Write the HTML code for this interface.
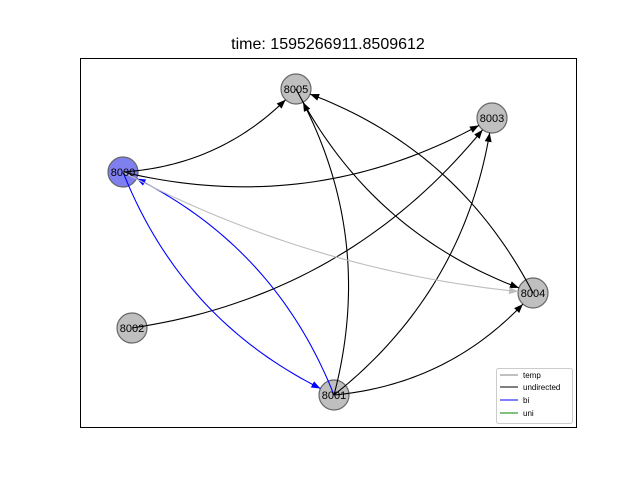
<!DOCTYPE html>
<html><head><meta charset="utf-8"><style>
body{margin:0;background:#fff;}
svg{display:block;font-family:"Liberation Sans","DejaVu Sans",sans-serif;}
</style></head><body>
<svg id="chart" width="640" height="480">
<rect width="640" height="480" fill="#fff"/>
<text x="328" y="49" font-size="16" text-anchor="middle">time: 1595266911.8509612</text>
<rect x="80.5" y="58.5" width="496" height="369" fill="none" stroke="#000" stroke-width="1"/>
<g id="nodes"></g>
<g id="edges"></g>
<g id="labels"></g>
<g>
<rect x="496.5" y="368.5" width="76" height="55" rx="2" fill="#fff" stroke="#ccc"/>
<g><line x1="500" y1="375" x2="518" y2="375" stroke="#808080"/><text x="523" y="378" font-size="8">temp</text></g>
<g><line x1="500" y1="387" x2="518" y2="387" stroke="#000"/><text x="523" y="390" font-size="8">undirected</text></g>
<g><line x1="500" y1="400" x2="518" y2="400" stroke="#0000ff"/><text x="523" y="403" font-size="8">bi</text></g>
<g><line x1="500" y1="413" x2="518" y2="413" stroke="#008000"/><text x="523" y="416" font-size="8">uni</text></g>
</g>
</svg>
<script>
const nodeIds = ["8000","8005","8003","8004","8002","8001"];
const nodeX = [123,296,492,533,132,334];
const nodeY = [172,89,118,293,328,395];
const nodeFill = ["#7f7ff0","#bfbfbf","#bfbfbf","#bfbfbf","#bfbfbf","#bfbfbf"];
const edgeFrom = ["8000","8000","8002","8001","8001","8001","8005","8004","8001","8000","8000"];
const edgeTo   = ["8005","8003","8003","8005","8003","8004","8004","8005","8000","8001","8004"];
const edgeColor= ["#000","#000","#000","#000","#000","#000","#000","#000","#0000ff","#0000ff","#bdbdbd"];
const edgeRad  = [0.2,0.2,0.2,0.2,0.2,0.2,0.2,0.2,0.2,0.2,0.1];
const R = 15, NS = "http://www.w3.org/2000/svg";
const ng = document.getElementById('nodes'), eg = document.getElementById('edges'), lg = document.getElementById('labels');
function pos(id){const i=nodeIds.indexOf(id);return [nodeX[i],nodeY[i]];}
nodeIds.forEach((id,i)=>{
  const c=document.createElementNS(NS,'circle');
  c.setAttribute('cx',nodeX[i]);c.setAttribute('cy',nodeY[i]);c.setAttribute('r',R);
  c.setAttribute('fill',nodeFill[i]);c.setAttribute('stroke','#666');c.setAttribute('stroke-width','1.2');
  
  
  ng.appendChild(c);
  const t=document.createElementNS(NS,'text');
  t.setAttribute('x',nodeX[i]);t.setAttribute('y',nodeY[i]+4);t.setAttribute('font-size','11');t.setAttribute('text-anchor','middle');
  t.textContent=id;
  
  
  lg.appendChild(t);
});
function q(p0,c,p1,t){const u=1-t;return [u*u*p0[0]+2*u*t*c[0]+t*t*p1[0],u*u*p0[1]+2*u*t*c[1]+t*t*p1[1]];}
edgeFrom.forEach((f,i)=>{
  const p0=pos(f),p1=pos(edgeTo[i]);
  const dx=p1[0]-p0[0],dy=p1[1]-p0[1],RAD=edgeRad[i];
  const c=[(p0[0]+p1[0])/2-RAD*dy,(p0[1]+p1[1])/2+RAD*dx];
  let lo=0.5,hi=1;
  for(let k=0;k<30;k++){const m=(lo+hi)/2,p=q(p0,c,p1,m);if(Math.hypot(p[0]-p1[0],p[1]-p1[1])>R)lo=m;else hi=m;}
  const tEnd=lo,tip=q(p0,c,p1,tEnd),prev=q(p0,c,p1,tEnd-0.01);
  let ax=tip[0]-prev[0],ay=tip[1]-prev[1];const L=Math.hypot(ax,ay);ax/=L;ay/=L;
  const base=[tip[0]-ax*9,tip[1]-ay*9];
  let d='M'+p0[0]+' '+p0[1];
  for(let k=1;k<=40;k++){const t=tEnd*k/40;const p=q(p0,c,p1,t);d+=' L'+p[0].toFixed(2)+' '+p[1].toFixed(2);}
  const g=document.createElementNS(NS,'g');
  
  
  const path=document.createElementNS(NS,'path');
  path.setAttribute('d',d);path.setAttribute('fill','none');path.setAttribute('stroke',edgeColor[i]);path.setAttribute('stroke-width','1.1');
  g.appendChild(path);
  const a=document.createElementNS(NS,'polygon');
  const w=3.5;
  a.setAttribute('points',tip[0]+','+tip[1]+' '+(base[0]-ay*w)+','+(base[1]+ax*w)+' '+(base[0]+ay*w)+','+(base[1]-ax*w));
  a.setAttribute('fill',edgeColor[i]);
  
  
  g.appendChild(a);
  eg.appendChild(g);
});
</script>
</body></html>
